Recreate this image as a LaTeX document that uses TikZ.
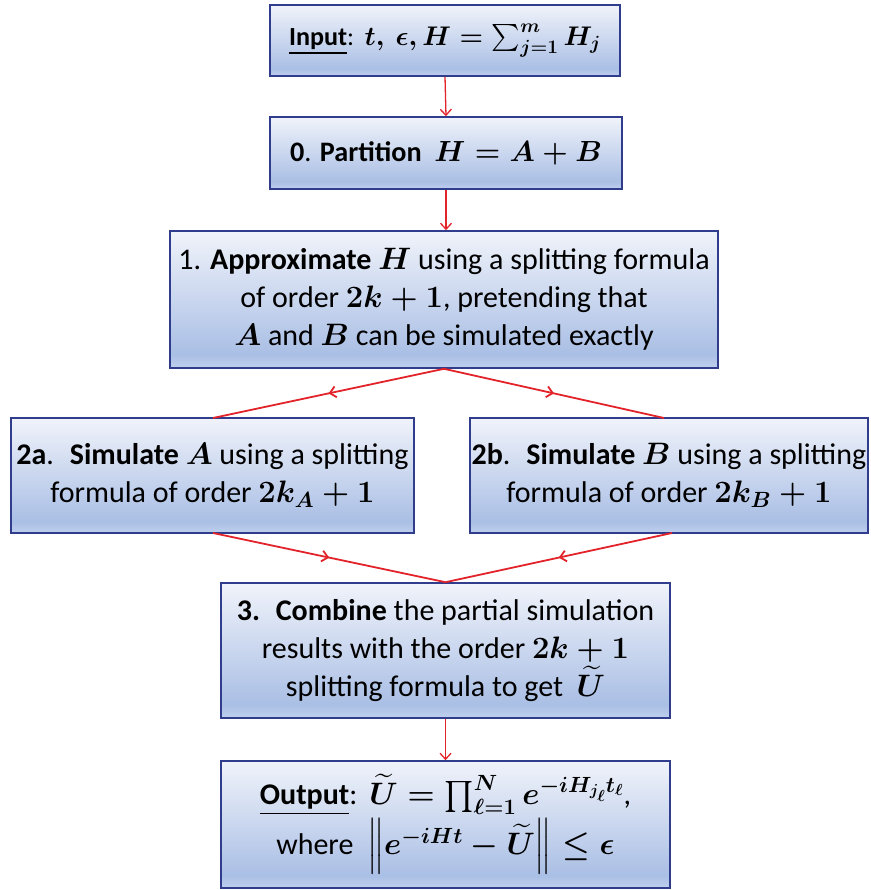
\RequirePackage{fix-cm}
\documentclass[tikz,border=0pt]{standalone}
\usepackage{amsmath,amssymb}
\usepackage{graphicx}
\usepackage{fontspec}
\setmainfont{Carlito}
\DeclareMathSizes{30}{31}{22}{16}
\usetikzlibrary{arrows.meta,decorations.markings,calc}
\definecolor{ctop}{HTML}{F0F3FA}
\definecolor{cdark}{HTML}{AABFE5}
\definecolor{cbot}{HTML}{C0D0EE}
\definecolor{bordc}{HTML}{2F3D8C}
\definecolor{arrc}{HTML}{E2242A}
\pgfdeclareverticalshading{boxgrad}{100bp}{color(0bp)=(cbot); color(25bp)=(cbot); color(30bp)=(cdark); color(75bp)=(ctop); color(100bp)=(ctop)}
\begin{document}
\begin{tikzpicture}[x=1pt,y=-1pt,
  flowbox/.style={draw=bordc,line width=1.6pt,shading=boxgrad,align=center,inner sep=0pt,
    font=\fontsize{30}{38}\selectfont\boldmath},
  vline/.style={draw=arrc,line width=1.3pt,-{Straight Barb[length=6pt,width=11pt]}},
  dline/.style={draw=arrc,line width=1.8pt,postaction={decorate},
    decoration={markings,mark=at position 0.5 with {\arrow{Straight Barb[length=6pt,width=11pt,line width=1.8pt]}}}}]
\useasboundingbox (0,0) rectangle (870,890);
\node[flowbox,minimum width=350pt,minimum height=71pt] (in) at (445,40.5)
  {\scalebox{0.87}{\underline{\textbf{Input}}:\hspace{0.4em}$t,\ \epsilon, H=\sum_{j=1}^{m} H_j$}};
\node[flowbox,minimum width=352pt,minimum height=72pt] (part) at (446,153)
  {\scalebox{0.94}{\textbf{0}. \textbf{Partition} \ $H=A+B$}};
\node[flowbox,minimum width=548pt,minimum height=137pt] (s1) at (444,299.5)
  {1. \textbf{Approximate} $H$ using a splitting formula\\ of order $2k+1$, pretending that\\ $A$ and $B$ can be simulated exactly};
\node[flowbox,minimum width=403pt,minimum height=115pt] (s2a) at (212.5,475.5)
  {\textbf{2a}. \ \textbf{Simulate} $A$ using a splitting\\ formula of order $2k_A+1$};
\node[flowbox,minimum width=398pt,minimum height=115pt] (s2b) at (669,475.5)
  {\textbf{2b}. \ \textbf{Simulate} $B$ using a splitting\\ formula of order $2k_B+1$};
\node[flowbox,minimum width=449pt,minimum height=135pt] (s3) at (445.5,650.5)
  {\textbf{3.} \ \textbf{Combine} the partial simulation\\ results with the order $2k+1$\\ splitting formula to get \ $\widetilde{U}$};
\node[flowbox,minimum width=449pt,minimum height=127pt] (out) at (445.5,824.5)
  {\underline{\textbf{Output}}:\hspace{0.4em}$\widetilde{U}=\prod_{\ell=1}^{N} e^{-iH_{j_\ell}t_\ell}$,\\[2pt] where \ $\Big\|e^{-iHt}-\widetilde{U}\Big\|\le\epsilon$};
\coordinate (a1) at (213,418);
\coordinate (b1) at (664,418);
\coordinate (a2) at (213,533);
\coordinate (b2) at (672,533);
\draw[vline] (in.south) -- (part.north);
\draw[vline] (part.south) -- (part.south |- s1.north);
\draw[dline] (s1.south) -- (a1);
\draw[dline] (s1.south) -- (b1);
\draw[dline] (a2) -- (s3.north);
\draw[dline] (b2) -- (s3.north);
\draw[vline] (s3.south) -- (out.north);
\end{tikzpicture}
\end{document}
